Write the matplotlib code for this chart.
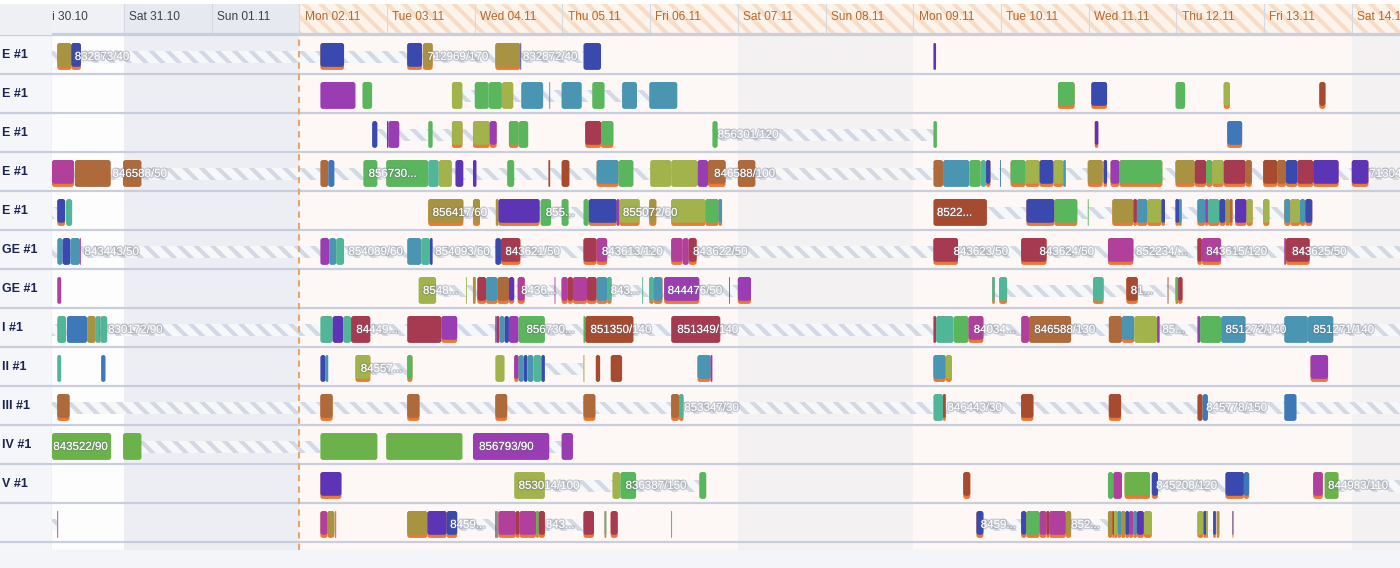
import matplotlib.pyplot as plt
from matplotlib.patches import FancyBboxPatch, Rectangle
import matplotlib.patheffects as pe

plt.rcParams['font.family'] = ['Liberation Sans', 'DejaVu Sans']
plt.rcParams['hatch.linewidth'] = 3.0

# time axis in days, 0 = Fri 30.10 00:00, "now" = Mon 02.11 00:00
day_labels = ['Fri 30.10', 'Sat 31.10', 'Sun 01.11', 'Mon 02.11', 'Tue 03.11', 'Wed 04.11',
              'Thu 05.11', 'Fri 06.11', 'Sat 07.11', 'Sun 08.11', 'Mon 09.11', 'Tue 10.11',
              'Wed 11.11', 'Thu 12.11', 'Fri 13.11', 'Sat 14.11']
now_day = 3.0
row_labels = ['E #1', 'E #1', 'E #1', 'E #1', 'E #1', 'GE #1', 'GE #1',
              'I #1', 'II #1', 'III #1', 'IV #1', 'V #1', '']

# operations per machine: (start, end, kind, setup)
r01 = [(0.24, 0.40, 'ol', 1), (0.40, 0.51, 'bl', 1), (3.24, 3.51, 'bl', 1), (4.23, 4.40, 'bl', 1),
       (4.41, 4.52, 'ol', 1), (5.235, 5.52, 'ol', 1), (5.52, 5.53, 'bl', 0), (6.24, 6.44, 'bl', 0),
       (10.23, 10.26, 'vi', 0)]
r02 = [(3.24, 3.64, 'pu', 0), (3.72, 3.83, 'gr', 0), (4.74, 4.86, 'li', 0), (5.00, 5.16, 'gr', 0),
       (5.16, 5.31, 'gr', 0), (5.31, 5.44, 'li', 0), (5.53, 5.78, 'te', 0), (5.85, 5.86, 'te', 0),
       (5.99, 6.22, 'te', 0), (6.34, 6.48, 'gr', 0), (6.68, 6.85, 'te', 0), (6.99, 7.31, 'te', 0),
       (11.65, 11.84, 'gr', 1), (12.03, 12.21, 'bl', 1), (12.99, 13.10, 'gr', 0),
       (13.54, 13.61, 'li', 1), (14.63, 14.70, 'ru', 1)]
r03 = [(3.83, 3.89, 'bl', 0), (4.00, 4.015, 'vi', 0), (4.015, 4.14, 'pu', 0), (4.47, 4.52, 'gr', 0),
       (4.74, 4.86, 'li', 1), (4.98, 5.17, 'li', 1), (5.17, 5.25, 'pu', 1), (5.39, 5.50, 'gr', 1),
       (5.50, 5.61, 'gr', 0), (6.26, 6.44, 'cr', 1), (6.44, 6.58, 'gr', 1), (7.71, 7.77, 'gr', 0),
       (10.23, 10.27, 'gr', 0), (12.07, 12.11, 'vi', 1), (13.58, 13.75, 'st', 1)]
r04 = [(0.18, 0.43, 'ma', 1), (0.44, 0.85, 'br', 0), (0.99, 1.20, 'br', 0), (3.24, 3.33, 'br', 0),
       (3.33, 3.40, 'st', 0), (3.73, 3.89, 'gr', 0), (3.99, 4.47, 'gr', 0), (4.47, 4.59, 'sf', 0),
       (4.59, 4.74, 'li', 0), (4.78, 4.87, 'vi', 0), (4.98, 5.02, 'vi', 0), (5.37, 5.45, 'gr', 0),
       (5.84, 5.86, 'ru', 0), (5.99, 6.08, 'ru', 0), (6.39, 6.64, 'te', 1), (6.64, 6.81, 'gr', 0),
       (7.00, 7.24, 'li', 0), (7.24, 7.54, 'li', 0), (7.54, 7.66, 'pu', 0), (7.66, 7.86, 'br', 1),
       (8.00, 8.20, 'br', 0), (10.23, 10.34, 'br', 0), (10.34, 10.64, 'te', 0),
       (10.64, 10.77, 'gr', 0), (10.77, 10.83, 'sf', 0), (10.83, 10.88, 'bl', 1),
       (10.99, 11.00, 'st', 0), (11.11, 11.28, 'gr', 1), (11.28, 11.44, 'li', 1),
       (11.44, 11.60, 'bl', 1), (11.60, 11.71, 'li', 1), (11.71, 11.74, 'te', 0),
       (11.99, 12.16, 'ol', 1), (12.17, 12.21, 'bl', 1), (12.25, 12.35, 'pu', 1),
       (12.35, 12.84, 'gr', 1), (12.99, 13.21, 'ol', 1), (13.21, 13.34, 'cr', 1),
       (13.34, 13.41, 'gr', 1), (13.41, 13.54, 'li', 1), (13.54, 13.79, 'cr', 1),
       (13.79, 13.86, 'br', 1), (13.99, 14.15, 'ru', 1), (14.15, 14.25, 'br', 1),
       (14.25, 14.38, 'bl', 1), (14.38, 14.56, 'cr', 1), (14.56, 14.85, 'vi', 1),
       (15.00, 15.19, 'vi', 1)]
r05 = [(0.24, 0.33, 'bl', 1), (0.34, 0.41, 'sf', 0), (4.47, 4.87, 'ol', 1), (4.98, 5.06, 'ol', 1),
       (5.24, 5.27, 'ol', 0), (5.27, 5.74, 'vi', 1), (5.75, 5.87, 'gr', 0), (5.99, 6.07, 'gr', 0),
       (6.24, 6.30, 'gr', 0), (6.30, 6.62, 'bl', 1), (6.62, 6.65, 'pu', 0), (6.65, 6.88, 'li', 1),
       (6.99, 7.07, 'ol', 1), (7.24, 7.63, 'li', 1), (7.63, 7.78, 'gr', 1), (7.78, 7.82, 'te', 1),
       (10.23, 10.84, 'ru', 0), (11.29, 11.61, 'bl', 1), (11.61, 11.87, 'gr', 1),
       (11.99, 12.00, 'gr', 0), (12.27, 12.51, 'ol', 1), (12.51, 12.55, 'cr', 1),
       (12.55, 12.67, 'te', 1), (12.67, 12.83, 'li', 1), (12.83, 12.87, 'bl', 1),
       (12.99, 13.03, 'bl', 1), (13.03, 13.06, 'te', 1), (13.24, 13.33, 'te', 1),
       (13.33, 13.36, 'pu', 1), (13.36, 13.49, 'sf', 1), (13.49, 13.56, 'bl', 1),
       (13.56, 13.61, 'ol', 1), (13.61, 13.64, 'br', 1), (13.67, 13.80, 'vi', 1),
       (13.80, 13.87, 'li', 1), (13.99, 14.06, 'li', 1), (14.23, 14.30, 'te', 1),
       (14.30, 14.41, 'li', 1), (14.41, 14.47, 'te', 1), (14.47, 14.55, 'bl', 1)]
r06 = [(0.24, 0.30, 'te', 0), (0.30, 0.39, 'bl', 0), (0.39, 0.50, 'te', 0), (0.50, 0.51, 'ma', 0),
       (3.24, 3.34, 'pu', 0), (3.34, 3.42, 'te', 0), (3.42, 3.51, 'sf', 0), (4.23, 4.39, 'te', 0),
       (4.39, 4.49, 'sf', 0), (4.49, 4.52, 'bl', 0), (5.235, 5.30, 'bl', 0), (5.30, 5.52, 'cr', 1),
       (6.24, 6.39, 'cr', 1), (6.39, 6.51, 'ma', 1), (7.24, 7.37, 'ma', 1), (7.37, 7.44, 'ma', 0),
       (7.44, 7.53, 'cr', 1), (10.23, 10.51, 'cr', 1), (11.23, 11.52, 'cr', 1),
       (12.22, 12.51, 'ma', 1), (13.24, 13.29, 'cr', 1), (13.29, 13.51, 'ma', 1),
       (14.23, 14.25, 'ma', 0), (14.25, 14.52, 'cr', 1)]
r07 = [(0.24, 0.285, 'ma', 0), (4.36, 4.56, 'li', 0), (4.90, 4.91, 'li', 0), (4.98, 5.01, 'ol', 1),
       (5.03, 5.13, 'cr', 1), (5.13, 5.26, 'te', 1), (5.26, 5.39, 'br', 1), (5.39, 5.45, 'vi', 1),
       (5.49, 5.57, 'ma', 1), (5.91, 5.92, 'ma', 0), (5.99, 6.06, 'ma', 1), (6.06, 6.12, 'cr', 1),
       (6.12, 6.28, 'ma', 1), (6.28, 6.39, 'cr', 1), (6.39, 6.51, 'te', 1), (6.51, 6.56, 'sf', 1),
       (6.91, 6.92, 'sf', 0), (6.99, 7.04, 'sf', 1), (7.04, 7.14, 'te', 1), (7.16, 7.56, 'pu', 1),
       (7.90, 7.91, 'pu', 0), (8.00, 8.15, 'pu', 1), (10.90, 10.93, 'sf', 1),
       (10.98, 11.07, 'sf', 1), (12.05, 12.17, 'sf', 1), (12.43, 12.56, 'ru', 1),
       (12.90, 12.91, 'ru', 0), (12.99, 13.02, 'gr', 1), (13.02, 13.07, 'cr', 1)]
r08 = [(0.24, 0.34, 'sf', 0), (0.35, 0.58, 'st', 0), (0.58, 0.68, 'ol', 0), (0.68, 0.72, 'sf', 0),
       (0.72, 0.73, 'ru', 0), (0.73, 0.81, 'sf', 0), (3.24, 3.38, 'sf', 0), (3.38, 3.50, 'vi', 0),
       (3.50, 3.59, 'sf', 0), (3.59, 3.81, 'cr', 0), (4.23, 4.62, 'cr', 0), (4.62, 4.80, 'pu', 1),
       (5.235, 5.25, 'vi', 0), (5.25, 5.28, 'cr', 0), (5.28, 5.34, 'te', 0), (5.34, 5.39, 'bl', 0),
       (5.39, 5.50, 'pu', 0), (5.50, 5.80, 'gr', 0), (6.24, 6.26, 'gr', 0), (6.26, 6.81, 'ru', 0),
       (7.24, 7.80, 'cr', 0), (10.23, 10.26, 'cr', 0), (10.26, 10.46, 'sf', 0),
       (10.46, 10.63, 'gr', 0), (10.63, 10.80, 'ma', 1), (11.23, 11.32, 'ma', 0),
       (11.32, 11.80, 'br', 0), (12.23, 12.38, 'br', 0), (12.38, 12.52, 'te', 1),
       (12.52, 12.78, 'li', 0), (12.78, 12.81, 'pu', 0), (13.24, 13.27, 'pu', 0),
       (13.27, 13.51, 'gr', 0), (13.51, 13.79, 'te', 0), (14.23, 14.50, 'te', 0),
       (14.50, 14.79, 'te', 0)]
r09 = [(0.24, 0.285, 'sf', 0), (0.74, 0.79, 'st', 0), (3.24, 3.30, 'bl', 0), (3.30, 3.33, 'te', 0),
       (3.64, 3.81, 'li', 1), (4.23, 4.29, 'gr', 1), (5.235, 5.34, 'li', 0), (5.45, 5.50, 'pu', 1),
       (5.50, 5.56, 'te', 0), (5.56, 5.60, 'bl', 0), (5.60, 5.67, 'te', 0), (5.67, 5.76, 'sf', 0),
       (5.76, 5.80, 'bl', 0), (6.24, 6.25, 'ol', 0), (6.38, 6.43, 'ru', 0), (6.55, 6.68, 'ru', 0),
       (7.54, 7.69, 'te', 1), (7.69, 7.71, 'pu', 0), (10.23, 10.37, 'te', 1),
       (10.37, 10.44, 'li', 1), (14.53, 14.73, 'pu', 1)]
r10 = [(0.24, 0.38, 'br', 1), (3.24, 3.38, 'br', 1), (4.23, 4.37, 'br', 1), (5.235, 5.37, 'br', 1),
       (6.24, 6.375, 'br', 1), (7.24, 7.33, 'br', 1), (7.33, 7.38, 'sf', 1), (10.23, 10.34, 'sf', 0),
       (10.34, 10.37, 'ru', 1), (11.23, 11.37, 'ru', 1), (12.23, 12.37, 'ru', 1),
       (13.24, 13.30, 'ru', 0), (13.30, 13.36, 'st', 0), (14.23, 14.37, 'st', 0)]
r11 = [(0.18, 0.855, 'g2', 0), (0.99, 1.20, 'g2', 0), (3.24, 3.89, 'g2', 0), (3.99, 4.86, 'g2', 0),
       (4.98, 5.85, 'pu', 0), (5.99, 6.12, 'pu', 0)]
r12 = [(3.24, 3.48, 'vi', 1), (5.45, 5.80, 'li', 0), (6.57, 6.66, 'li', 0), (6.66, 6.84, 'gr', 0),
       (7.56, 7.64, 'gr', 0), (10.57, 10.65, 'ru', 1), (12.22, 12.28, 'gr', 0),
       (12.28, 12.38, 'ma', 0), (12.41, 12.70, 'g2', 1), (12.72, 12.79, 'bl', 1),
       (13.56, 13.77, 'bl', 1), (13.77, 13.83, 'st', 1), (14.56, 14.67, 'ma', 1),
       (14.69, 14.85, 'g2', 0)]
r13 = [(0.24, 0.25, 'ma', 0), (3.24, 3.32, 'ma', 1), (3.32, 3.40, 'ol', 1), (3.41, 3.42, 'ma', 0),
       (4.23, 4.46, 'ol', 1), (4.46, 4.68, 'vi', 1), (4.68, 4.80, 'bl', 1), (5.235, 5.25, 'bl', 0),
       (5.25, 5.27, 'ol', 0), (5.27, 5.47, 'ma', 1), (5.47, 5.51, 'cr', 1), (5.51, 5.70, 'ma', 1),
       (5.70, 5.73, 'gr', 1), (5.73, 5.80, 'cr', 1), (6.24, 6.36, 'cr', 1), (6.48, 6.50, 'sf', 1),
       (6.55, 6.63, 'cr', 1), (7.24, 7.25, 'te', 0), (10.72, 10.80, 'bl', 1),
       (11.23, 11.29, 'bl', 1), (11.29, 11.44, 'gr', 1), (11.44, 11.52, 'ma', 1),
       (11.52, 11.55, 'cr', 1), (11.55, 11.74, 'ma', 1), (11.74, 11.80, 'ol', 1),
       (12.22, 12.27, 'ol', 1), (12.27, 12.29, 'ru', 1), (12.29, 12.33, 'li', 1),
       (12.33, 12.37, 'te', 1), (12.37, 12.42, 'ol', 1), (12.42, 12.46, 'bl', 1),
       (12.46, 12.51, 'ma', 1), (12.51, 12.55, 'te', 1), (12.55, 12.63, 'vi', 1),
       (12.63, 12.72, 'li', 1), (13.24, 13.31, 'li', 1), (13.31, 13.34, 'bl', 1),
       (13.34, 13.36, 'li', 1), (13.42, 13.45, 'bl', 1), (13.46, 13.49, 'ol', 1),
       (13.64, 13.65, 'bl', 1)]
rows = [r01, r02, r03, r04, r05, r06, r07, r08, r09, r10, r11, r12, r13]

# waiting spans between operations of one order
links = [[(0.18, 6.24)], [(4.74, 7.31)], [(3.83, 5.25), (7.71, 10.27)], [(0.18, 15.6)],
         [(0.18, 0.24), (4.87, 7.82), (10.84, 14.55)], [(0.18, 15.6)], [(4.56, 8.15), (10.93, 13.07)],
         [(0.18, 15.6)], [(3.81, 4.23), (5.80, 6.24)], [(0.18, 15.6)], [(1.20, 3.24), (5.85, 5.99)],
         [(5.80, 7.64), (12.79, 13.56), (14.85, 15.6)],
         [(0.18, 0.24), (4.80, 6.24), (10.80, 11.23), (11.80, 12.22)]]

# order / quantity labels
texts = [[(0.44, '832873/40'), (4.46, '712969/170'), (5.55, '832872/40')],
         [],
         [(7.77, '856301/120')],
         [(0.87, '846588/50'), (3.79, '856730...'), (7.73, '846588/100'), (15.20, '713048/60')],
         [(4.52, '856417/60'), (5.81, '855...'), (6.69, '855072/60'), (10.27, '8522...')],
         [(0.55, '843443/50'), (3.56, '854089/60'), (4.55, '854093/60'), (5.35, '843621/50'),
          (6.45, '843613/120'), (7.49, '843622/50'), (10.46, '843623/50'), (11.44, '843624/50'),
          (12.54, '852234/...'), (13.34, '843615/120'), (14.32, '843625/50')],
         [(4.41, '8548...'), (5.53, '8436...'), (6.55, '843...'), (7.20, '844476/50'), (12.48, '81...')],
         [(0.82, '830172/90'), (3.65, '84449...'), (5.59, '856730...'), (6.32, '851350/140'),
          (7.31, '851349/140'), (10.69, '84034...'), (11.38, '846588/130'), (12.84, '85...'),
          (13.56, '851272/140'), (14.56, '851271/140')],
         [(3.70, '84557...')],
         [(7.39, '853347/30'), (10.39, '846443/30'), (13.34, '845778/150')],
         [(0.195, '843522/90'), (5.05, '856793/90')],
         [(5.50, '853014/100'), (6.72, '836387/150'), (12.77, '845208/120'), (14.73, '844983/110')],
         [(4.72, '8459...'), (5.81, '843...'), (10.77, '8459...'), (11.80, '852...')]]

palette = {'ol': '#a89340', 'li': '#a2b34b', 'gr': '#5ab65c', 'g2': '#6cb24b', 'bl': '#3949ae',
           'st': '#3f78b9', 'te': '#4a95b1', 'sf': '#51b597', 'pu': '#9a3db2', 'vi': '#5b35b5',
           'ma': '#b0409c', 'cr': '#a53a50', 'br': '#ae6a3b', 'ru': '#a64b30'}
SETUP = '#ea7836'

W, H = 1400, 568
X0, X1 = 0.18, 15.55
fig = plt.figure(figsize=(W / 100, H / 100), dpi=100, facecolor='#f3f5f8')

ax = fig.add_axes([52 / W, (H - 550) / H, (W - 52) / W, 515 / H])
hx = fig.add_axes([52 / W, (H - 35) / H, (W - 52) / W, 31 / H])
lx = fig.add_axes([0, (H - 550) / H, 52 / W, 515 / H])
for a in (ax, hx, lx):
    a.axis('off')
ax.set_xlim(X0, X1)
ax.set_ylim(len(rows) + 0.205, 0)
hx.set_xlim(X0, X1)
hx.set_ylim(0, 1)
lx.set_xlim(0, 52)
lx.set_ylim(len(rows) + 0.205, 0)

# top strip and header corner
fig.patches.append(Rectangle((0, (H - 4) / H), 1, 4 / H, transform=fig.transFigure,
                             facecolor='white', edgecolor='none', zorder=-1))
fig.patches.append(Rectangle((0, (H - 35) / H), 52 / W, 31 / H, transform=fig.transFigure,
                             facecolor='#eef0f4', edgecolor='none', zorder=-1))
lx.add_patch(Rectangle((0, 0), 52, len(rows) + 0.205, facecolor='#f5f6f9', edgecolor='none'))

# day backgrounds and header cells
for i, lab in enumerate(day_labels):
    weekend = i % 7 in (1, 2)
    past = i < now_day
    if past:
        bg = '#eceef3' if weekend else '#fdfdfe'
        hx.add_patch(Rectangle((i, 0), 1, 1, facecolor='#e6e9ef' if weekend else '#eff1f5',
                               edgecolor='none'))
        tcol = '#3b404d'
    else:
        bg = '#f3f1f1' if weekend else '#fdf8f5'
        hx.add_patch(Rectangle((i, 0), 1, 1, facecolor='#fcf3eb', edgecolor='#f7ddc7',
                               hatch='\\\\', linewidth=0))
        tcol = '#b8682e'
    ax.add_patch(Rectangle((i, 0), 1, len(rows) + 0.205, facecolor=bg, edgecolor='none', zorder=0))
    hx.axvline(i, color='#d5d9e2', lw=0.8)
    hx.text(i + 0.06, 0.57, lab, color=tcol, fontsize=8.6, va='center', ha='left', clip_on=True)
hx.axhline(0.02, color='#c9cfdc', lw=1.6)

# row separators
for r in range(len(rows) + 1):
    ax.axhline(r, color='#c8cedb', lw=1.6, zorder=1)
    lx.axhline(r, color='#c8cedb', lw=1.6)
ax.axhline(len(rows) + 0.2, color='#d5d9e2', lw=0.8, zorder=1)
lx.axvline(52, color='#d4d8e1', lw=1.0)
for r, lab in enumerate(row_labels):
    lx.text(2, r + 0.52, lab, fontsize=9, fontweight='bold', color='#1c2452', va='center', ha='left')

ax.axvline(now_day, color='#e9a66b', lw=1.5, ls=(0, (3, 2.5)), zorder=2.5)

ASPECT = 87.7 / 39.0
RAD = 0.03


def box(x, y, w, h, color, z):
    rs = min(RAD, w / 2)
    return FancyBboxPatch((x, y), w, h, boxstyle=f'round,pad=0,rounding_size={rs}',
                          mutation_aspect=ASPECT, facecolor=color, edgecolor='none', zorder=z)


shadow = [pe.withStroke(linewidth=2.0, foreground=(0.42, 0.44, 0.5, 0.32))]
for r, bars in enumerate(rows):
    for s, e in links[r]:
        ax.add_patch(Rectangle((s, r + 0.41), e - s, 0.31, facecolor='#f6f7f9',
                               edgecolor='#d3d8e2', hatch='\\\\', linewidth=0, zorder=2))
    for s, e, kind, setup in bars:
        top, h = r + 0.205, 0.69
        if setup:
            ax.add_patch(box(s, top, e - s, h, SETUP, 3))
            h -= 0.08
        ax.add_patch(box(s, top, e - s, h, palette[kind], 4))
    for x, t in texts[r]:
        ax.text(x, r + 0.56, t, color='white', fontsize=8.3, va='center', ha='left',
                zorder=5, clip_on=True, path_effects=shadow)

fig.savefig('out.png', dpi=100, facecolor=fig.get_facecolor())
